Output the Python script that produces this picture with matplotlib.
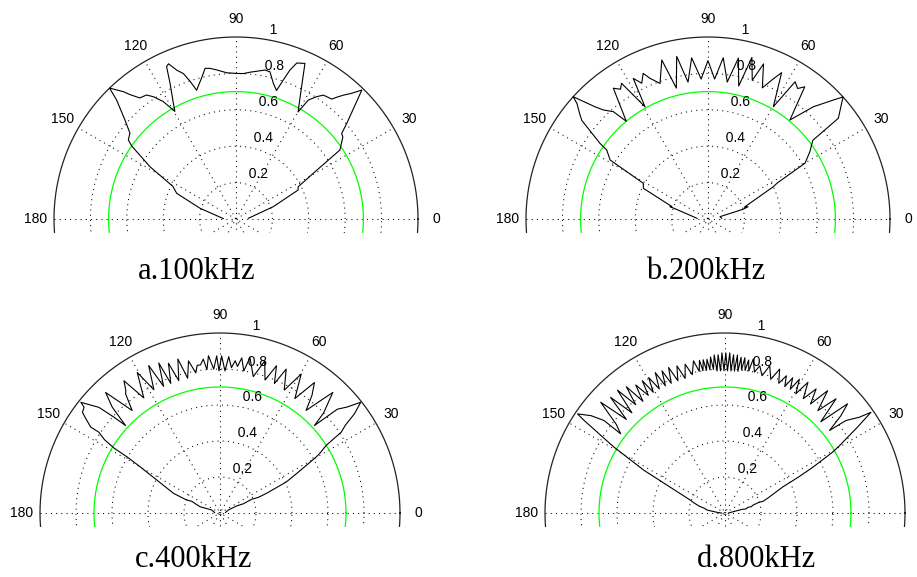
import matplotlib
matplotlib.use("Agg")
import matplotlib.pyplot as plt
import numpy as np

# directivity patterns: angle in degrees, normalised radius
theta_a = [3.3, 18.3, 25.0, 27.4, 30.6, 33.6, 37.5, 39.0, 40.8, 45.7, 47.4, 49.1, 50.4, 51.4, 54.8,
           56.6, 58.7, 59.9, 63.6, 66.1, 68.7, 70.1, 71.2, 72.5, 74.6, 77.0, 79.0, 80.8, 84.6, 87.1,
           90.0, 93.6, 97.4, 99.8, 101.6, 103.6, 107.0, 108.5, 109.9, 111.7, 113.5, 114.5, 115.9, 118.5, 119.6,
           121.8, 124.0, 125.8, 128.5, 130.5, 131.5, 134.0, 135.1, 138.3, 141.0, 143.7, 145.0, 148.7, 152.7, 156.6,
           163.4, 178.0]
r_a = [0.068, 0.216, 0.376, 0.385, 0.493, 0.686, 0.74, 0.747, 0.804, 0.99, 0.938, 0.90, 0.868, 0.843, 0.833,
       0.805, 0.765, 0.68, 0.81, 0.935, 0.92, 0.87, 0.807, 0.74, 0.773, 0.83, 0.834, 0.825, 0.81, 0.80,
       0.80, 0.805, 0.826, 0.84, 0.845, 0.80, 0.74, 0.80, 0.85, 0.88, 0.93, 0.92, 0.83, 0.72, 0.68,
       0.76, 0.81, 0.84, 0.85, 0.90, 0.934, 1.0, 0.926, 0.817, 0.75, 0.734, 0.70, 0.553, 0.39, 0.355,
       0.206, 0.07]

theta_b = [3, 11, 15.5, 17, 18, 26.3, 27.5, 29.9, 33.4, 36.9, 37.7, 42.1, 43.5, 46.8, 50.4,
           53.8, 55.5, 57.6, 59.8, 63.3, 65, 67.5, 70.3, 72.3, 74.8, 77, 79.3, 82, 84.6, 87.3,
           90, 92.8, 95.8, 98.3, 100.9, 103.6, 106.2, 109.5, 112.4, 114, 116, 118, 119.3, 122.5, 124,
           125.9, 129.9, 131.4, 133.8, 135.2, 137.8, 138.6, 140.9, 142, 145, 145.7, 148.9, 151.1, 154.6, 161,
           162, 163, 171, 177]
r_b = [0.075, 0.067, 0.2, 0.23, 0.21, 0.40, 0.43, 0.615, 0.67, 0.72, 0.905, 1.0, 0.95, 0.846, 0.706,
       0.90, 0.87, 0.893, 0.714, 0.90, 0.85, 0.78, 0.905, 0.80, 0.92, 0.75, 0.90, 0.76, 0.89, 0.77,
       0.87, 0.77, 0.89, 0.76, 0.91, 0.74, 0.91, 0.79, 0.836, 0.876, 0.83, 0.875, 0.707, 0.884, 0.86,
       0.887, 0.70, 0.786, 0.83, 0.875, 1.0, 0.96, 0.906, 0.88, 0.725, 0.674, 0.628, 0.406, 0.393, 0.21,
       0.22, 0.18, 0.082, 0.06]

theta_c = [5, 20, 23, 21.5, 23.5, 22.2, 22.9, 25.1, 27, 28.5, 30.2, 31, 32.5, 33.7, 35,
           36.4, 38.2, 39.8, 41.5, 42.8, 44, 46.9, 47.8, 50, 52, 54.1, 56.8, 59.7, 62.4, 65.3,
           67.2, 69, 71.3, 73.6, 76.3, 79.1, 80.5, 82, 83.2, 84.3, 85.5, 86.8, 88, 89.4, 90.4,
           91.2, 92.5, 94.2, 95.2, 96.2, 97.5, 98.8, 99.8, 101.7, 103.5, 105.3, 107.3, 109, 110.8, 112.2,
           114, 115.8, 118.2, 120.5, 123.5, 126, 127.5, 128.4, 130.6, 133.5, 135.5, 137.2, 137.9, 138.9, 141.5,
           142.1, 143.8, 144.9, 146.4, 146.3, 147.6, 148.5, 148.9, 150, 152.5, 157.1, 158.7, 157.5, 160, 162.5,
           160, 175]
r_c = [0.03, 0.05, 0.10, 0.14, 0.19, 0.23, 0.28, 0.407, 0.47, 0.53, 0.618, 0.65, 0.70, 0.81, 0.85,
       0.927, 0.995, 0.92, 0.87, 0.715, 0.80, 0.917, 0.86, 0.744, 0.83, 0.895, 0.76, 0.894, 0.77, 0.88,
       0.78, 0.876, 0.78, 0.88, 0.78, 0.88, 0.80, 0.87, 0.82, 0.85, 0.81, 0.87, 0.79, 0.873, 0.79,
       0.873, 0.80, 0.876, 0.80, 0.86, 0.83, 0.83, 0.79, 0.863, 0.77, 0.887, 0.77, 0.88, 0.77, 0.90,
       0.77, 0.91, 0.777, 0.906, 0.767, 0.908, 0.86, 0.844, 0.75, 0.923, 0.84, 0.715, 0.794, 0.893, 0.988,
       0.957, 0.947, 0.911, 0.862, 0.81, 0.76, 0.69, 0.60, 0.51, 0.394, 0.28, 0.20, 0.17, 0.14, 0.116,
       0.05, 0.03]

theta_d = [0, 9, 12, 11, 14, 13.5, 15.8, 17.5, 17, 19, 21, 24.3, 26, 27.5, 29.5,
           30.5, 31.7, 33, 34.6, 35.5, 37.4, 38.3, 40, 41.7, 43.6, 45.8, 47.8, 50, 51.9, 53.7,
           55.6, 57.6, 59.3, 60.9, 62.2, 63.4, 64.7, 65.9, 67.5, 69.2, 71.1, 73.1, 74.9, 76.7, 78.2,
           79.6, 80.5, 81.2, 82, 82.7, 83.4, 84.1, 84.8, 85.5, 86.2, 86.9, 87.6, 88.3, 89, 89.7,
           90.4, 91.1, 91.8, 92.5, 93.2, 93.9, 94.6, 95.3, 96, 96.7, 97.4, 98.1, 98.8, 99.5, 100.3,
           101.7, 103.3, 105, 106.5, 108.1, 109.6, 111.2, 112.5, 113.9, 115.1, 116.4, 117.9, 119.4, 120.7, 122,
           123.1, 124.9, 126.3, 128, 129.5, 131.2, 132.9, 134.7, 136.5, 138.3, 140.8, 142.8, 142.6, 144, 146.1,
           146.7, 149.3, 152.2, 159.6, 162, 165, 167, 170.7, 176, 180]
r_d = [0.02, 0.046, 0.10, 0.12, 0.13, 0.15, 0.163, 0.20, 0.22, 0.25, 0.28, 0.353, 0.45, 0.55, 0.688,
       0.74, 0.80, 0.88, 0.985, 0.916, 0.846, 0.74, 0.84, 0.912, 0.735, 0.885, 0.768, 0.887, 0.77, 0.855,
       0.77, 0.86, 0.77, 0.85, 0.777, 0.84, 0.777, 0.835, 0.78, 0.855, 0.785, 0.855, 0.79, 0.84, 0.80,
       0.87, 0.80, 0.86, 0.80, 0.87, 0.80, 0.87, 0.79, 0.88, 0.79, 0.88, 0.79, 0.89, 0.79, 0.89,
       0.79, 0.89, 0.79, 0.88, 0.79, 0.88, 0.80, 0.87, 0.80, 0.86, 0.80, 0.86, 0.80, 0.86, 0.80,
       0.863, 0.79, 0.856, 0.78, 0.86, 0.78, 0.867, 0.78, 0.864, 0.78, 0.871, 0.78, 0.864, 0.78, 0.867,
       0.78, 0.867, 0.77, 0.89, 0.78, 0.907, 0.76, 0.904, 0.755, 0.925, 0.78, 0.728, 0.846, 0.92, 0.987,
       0.936, 0.718, 0.51, 0.206, 0.18, 0.15, 0.12, 0.10, 0.04, 0.02]

captions = ["a.100kHz", "b.200kHz", "c.400kHz", "d.800kHz"]
ring_values = [0.2, 0.4, 0.6, 0.8]
angle_ticks = [0, 30, 60, 90, 120, 150, 180]
green_radius = 0.7

W, H = 917, 577
fig = plt.figure(figsize=(W / 100, H / 100), dpi=100)
fig.patch.set_facecolor("white")

dotted = (0, (1, 4))
tick_font = dict(family=["Liberation Sans", "DejaVu Sans"], fontsize=10, color="black")


def polar_panel(cx, cy, R, theta, r, crop=14):
    # cartesian axes laid out so that one radius unit = R pixels, like MATLAB's polar()
    ax = fig.add_axes([(cx - 1.3 * R) / W, (H - cy - crop) / H, 2.6 * R / W, (1.2 * R + crop) / H])
    ax.set_xlim(-1.3, 1.3)
    ax.set_ylim(-crop / R, 1.2)
    ax.axis("off")

    t = np.linspace(0, 2 * np.pi, 721)
    for v in ring_values:
        ax.plot(v * np.cos(t), v * np.sin(t), color="black", lw=0.75, ls=dotted)
    ax.plot(np.cos(t), np.sin(t), color="#222222", lw=0.9)
    for a in range(0, 180, 30):
        ar = np.deg2rad(a)
        ax.plot([-np.cos(ar), np.cos(ar)], [-np.sin(ar), np.sin(ar)], color="black", lw=0.75, ls=dotted)

    c82, s82 = np.cos(np.deg2rad(82)), np.sin(np.deg2rad(82))
    for v in ring_values + [1]:
        ax.text((v + 0.01) * c82, (v + 0.01) * s82, "  " + ("%g" % v), ha="left", va="bottom", **tick_font)
    for a in angle_ticks:
        ar = np.deg2rad(a)
        # labels that would fall off the right edge of the page are not shown in the source
        if cx + 1.1 * R * np.cos(ar) + 6 > W:
            continue
        ax.text(1.1 * np.cos(ar), 1.1 * np.sin(ar), str(a), ha="center", va="center", **tick_font)

    ax.plot(green_radius * np.cos(t), green_radius * np.sin(t), color="#00ff00", lw=0.9)

    th = np.deg2rad(np.array(theta))
    rr = np.array(r)
    ax.plot(rr * np.cos(th), rr * np.sin(th), color="black", lw=0.8)
    return ax


polar_panel(236, 219, 182, theta_a, r_a)
polar_panel(708, 219, 182, theta_b, r_b)
polar_panel(220, 513, 180, theta_c, r_c)
polar_panel(725, 513, 180, theta_d, r_d)

cap_font = dict(family=["Liberation Serif", "DejaVu Serif"], fontsize=22, color="black")
cap_pos = [(197, 279), (706, 279), (194, 567), (757, 567)]
for text, (px, py) in zip(captions, cap_pos):
    fig.text(px / W, 1 - py / H, text, ha="center", va="baseline", **cap_font)

fig.savefig("out.png", dpi=100, facecolor="white")
